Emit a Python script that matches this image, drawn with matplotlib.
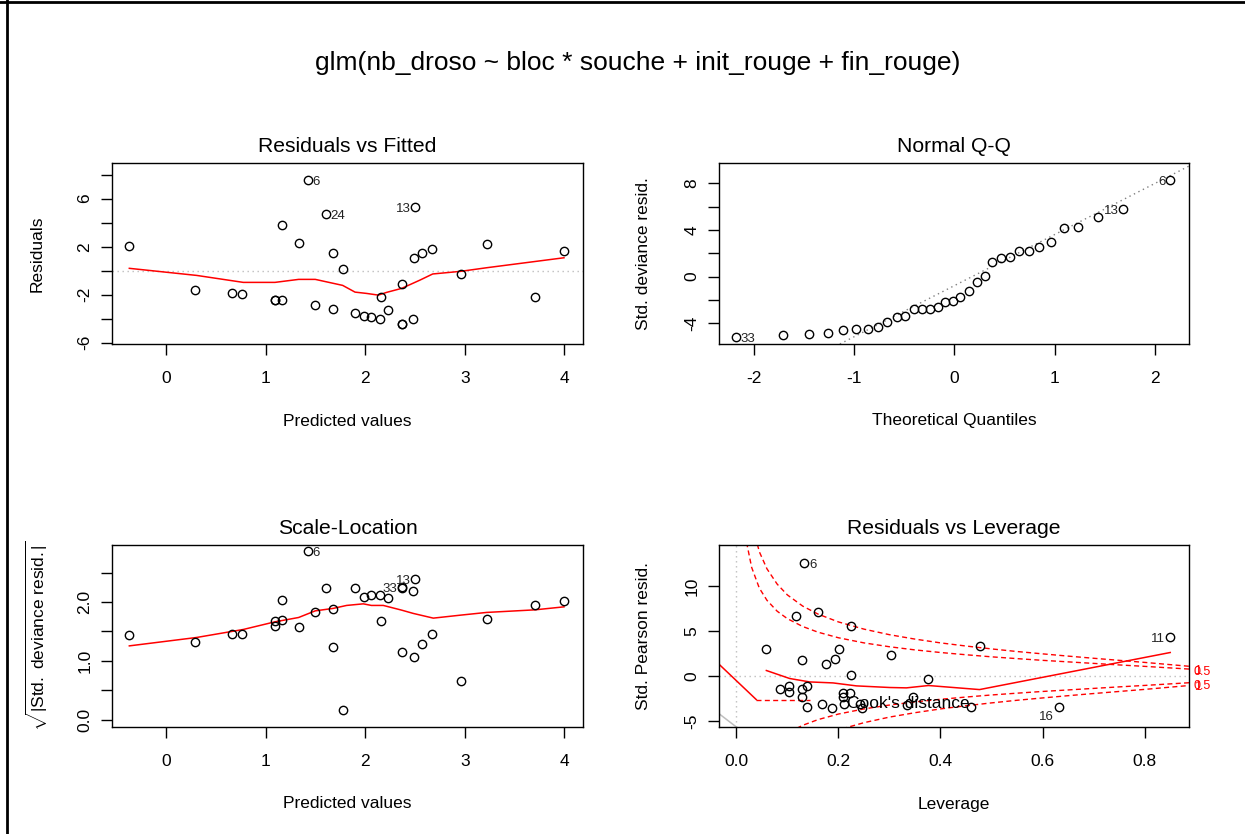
import matplotlib
matplotlib.use("Agg")
import matplotlib.pyplot as plt
from matplotlib.lines import Line2D
import matplotlib.transforms as mtransforms

plt.rcParams['font.family'] = ['Liberation Sans', 'DejaVu Sans']
plt.rcParams['mathtext.fontset'] = 'custom'
plt.rcParams['mathtext.rm'] = 'Liberation Sans'
plt.rcParams['mathtext.it'] = 'Liberation Sans:italic'
plt.rcParams['mathtext.bf'] = 'Liberation Sans:bold'

# ---------------- data ----------------
MAIN_TITLE = "glm(nb_droso ~ bloc * souche + init_rouge + fin_rouge)"

# Residuals vs Fitted / Scale-Location (same observations)
fitted = [-0.368, 0.294, 0.666, 0.763, 1.094, 1.094, 1.165, 1.165, 1.332, 1.426,
          1.496, 1.606, 1.677, 1.677, 1.774, 1.898, 1.991, 2.062, 2.145, 2.159,
          2.229, 2.366, 2.366, 2.366, 2.476, 2.487, 2.503, 2.574, 2.668, 2.959,
          3.220, 3.705, 3.996]
residuals = [2.06, -1.61, -1.86, -1.94, -2.41, -2.41, -2.41, 3.78, 2.28, 7.56,
             -2.86, 4.70, 1.50, -3.19, 0.11, -3.55, -3.77, -3.88, -4.00, -2.19,
             -3.30, -4.47, -4.47, -1.13, -4.00, 1.03, 5.28, 1.50, 1.83, -0.25,
             2.20, -2.17, 1.64]
sqrt_std_resid = [1.431, 1.317, 1.453, 1.453, 1.589, 1.675, 1.692, 2.038, 1.572, 2.862,
                  1.828, 2.231, 1.227, 1.874, 0.170, 2.231, 2.089, 2.118, 2.118, 1.669,
                  2.061, 2.259, 2.231, 1.152, 2.186, 1.061, 2.395, 1.288, 1.458, 0.664,
                  1.714, 1.952, 2.020]

# smoother (Residuals vs Fitted)
rvf_smooth_x = [-0.368, 0.308, 0.776, 1.094, 1.332, 1.499, 1.774, 1.898, 2.015, 2.132,
                2.216, 2.366, 2.550, 2.678, 2.959, 3.220, 3.996]
rvf_smooth_y = [0.20, -0.39, -0.97, -0.97, -0.72, -0.72, -1.22, -1.78, -1.89, -2.03,
                -1.80, -1.47, -0.78, -0.27, -0.05, 0.25, 1.08]

# smoother (Scale-Location)
sl_smooth_x = [-0.368, 0.308, 0.776, 1.094, 1.332, 1.499, 1.677, 1.814, 1.981, 2.062,
               2.182, 2.366, 2.483, 2.684, 2.959, 3.220, 3.705, 3.996]
sl_smooth_y = [1.254, 1.397, 1.533, 1.663, 1.737, 1.850, 1.891, 1.942, 1.969, 1.942,
               1.942, 1.862, 1.806, 1.726, 1.777, 1.823, 1.867, 1.918]

# Normal Q-Q
qq_theoretical = [-2.174, -1.706, -1.450, -1.255, -1.106, -0.982, -0.860, -0.763, -0.667,
                  -0.574, -0.488, -0.404, -0.325, -0.245, -0.162, -0.090, -0.010, 0.060,
                  0.143, 0.223, 0.303, 0.378, 0.468, 0.555, 0.648, 0.744, 0.841, 0.960,
                  1.090, 1.235, 1.428, 1.683, 2.151]
qq_sample = [-5.14, -5.02, -4.91, -4.80, -4.57, -4.45, -4.45, -4.31, -3.86, -3.48, -3.37,
             -2.80, -2.80, -2.80, -2.57, -2.20, -2.08, -1.74, -1.25, -0.43, 0.06, 1.23,
             1.60, 1.69, 2.17, 2.17, 2.52, 3.00, 4.17, 4.28, 5.12, 5.83, 8.29]
qq_line_intercept = -0.77
qq_line_slope = 4.385

# Residuals vs Leverage
leverage = [0.1333, 0.1608, 0.1176, 0.2255, 0.0588, 0.1280, 0.1765, 0.1927, 0.2012,
            0.3031, 0.4765, 0.8502, 0.2255, 0.3765, 0.0849, 0.1032, 0.1032, 0.1280,
            0.1392, 0.1280, 0.1392, 0.1686, 0.1875, 0.2084, 0.2235, 0.2084, 0.2104,
            0.2418, 0.2463, 0.3339, 0.3463, 0.4594, 0.6325]
pearson = [12.51, 7.09, 6.65, 5.57, 2.97, 1.75, 1.27, 1.89, 2.97, 2.34, 3.27, 4.34,
           0.08, -0.37, -1.45, -1.11, -1.78, -1.45, -1.11, -2.34, -3.45, -3.15, -3.56,
           -1.89, -1.89, -2.34, -3.15, -3.08, -3.56, -3.26, -2.34, -3.45, -3.45]
rvl_smooth_x = [0.0588, 0.1045, 0.1437, 0.1895, 0.2353, 0.3006, 0.3333, 0.3765, 0.4765, 0.8502]
rvl_smooth_y = [0.60, -0.29, -0.67, -0.78, -1.11, -1.29, -1.33, -1.07, -1.52, 2.60]

cook_h = [0.02, 0.03, 0.045, 0.06, 0.08, 0.10, 0.13, 0.16, 0.20, 0.25, 0.30, 0.35,
          0.40, 0.45, 0.50, 0.55, 0.60, 0.65, 0.70, 0.75, 0.80, 0.887]
cook_level_1 = [21.0, 17.05, 13.8, 11.9, 10.2, 9.0, 7.76, 6.87, 6.0, 5.2, 4.58, 4.09,
                3.67, 3.32, 3.0, 2.71, 2.45, 2.20, 1.96, 1.73, 1.5, 1.07]
cook_level_05 = [14.85, 12.06, 9.76, 8.40, 7.19, 6.36, 5.49, 4.86, 4.24, 3.67, 3.24, 2.89,
                 2.60, 2.35, 2.12, 1.92, 1.73, 1.56, 1.39, 1.22, 1.06, 0.76]
cook_labels = ["1", "0.5"]

# odd segments at the left of the leverage panel
left_red_x = [-0.034, 0.039]
left_red_y = [1.30, -2.63]
legend_dash_x = [0.039, 0.144]
legend_dash_y = [-2.63, -2.63]
left_grey_x = [-0.034, 0.0]
left_grey_y = [-4.2, -5.68]

# ---------------- figure ----------------
W, H = 1245, 834
fig = plt.figure(figsize=(W / 100, H / 100), dpi=100)
fig.patch.set_facecolor('white')


def ax_at(x0, y0, x1, y1):
    return fig.add_axes([x0 / W, 1 - y1 / H, (x1 - x0) / W, (y1 - y0) / H])


ax1 = ax_at(112, 163, 583, 344)
ax2 = ax_at(719, 163, 1189, 344)
ax3 = ax_at(112, 545, 583, 727)
ax4 = ax_at(719, 545, 1189, 727)

TICK_FS = 12.5
LAB_FS = 12.5
TITLE_FS = 15.2
ID_FS = 9.5
DOT = (0, (1, 2.6))
DASH = (0, (3.6, 2.4))
GREY = '#bebebe'


def style(ax, xlim, ylim, xt, xtl, yt, ytl):
    ax.set_xlim(*xlim)
    ax.set_ylim(*ylim)
    ax.set_xticks(xt)
    ax.set_xticklabels(xtl)
    ax.set_yticks(yt)
    ax.set_yticklabels(ytl, rotation=90, va='center')
    ax.tick_params(direction='out', length=8, width=1.0, labelsize=TICK_FS, color='black')
    ax.tick_params(axis='x', pad=11.5)
    ax.tick_params(axis='y', pad=6)
    for s in ax.spines.values():
        s.set_linewidth(1.0)
        s.set_color('black')


def labels(ax, title, xlabel, ylabel, hpx, wpx):
    ax.text(0.5, 1 + 16.5 / hpx, title, transform=ax.transAxes, ha='center', va='center',
            fontsize=TITLE_FS)
    ax.text(0.5, -77 / hpx, xlabel, transform=ax.transAxes, ha='center', va='center',
            fontsize=LAB_FS)
    ax.text(-75 / wpx, 0.5, ylabel, transform=ax.transAxes, ha='center', va='center',
            rotation=90, fontsize=LAB_FS)


def pts(ax, x, y):
    ax.plot(x, y, linestyle='none', marker='o', markersize=6, mfc='none', mec='black',
            mew=1.0, zorder=3)


def ident(ax, x, y, txt, side):
    if side == 'r':
        ax.annotate(txt, (x, y), xytext=(3.5, -1.5), textcoords='offset points',
                    ha='left', va='center', fontsize=ID_FS, color='#222222')
    else:
        ax.annotate(txt, (x, y), xytext=(-3.5, -1.5), textcoords='offset points',
                    ha='right', va='center', fontsize=ID_FS, color='#222222')


# Panel 1: Residuals vs Fitted
style(ax1, (-0.542, 4.187), (-6.1, 8.97), [0, 1, 2, 3, 4], ['0', '1', '2', '3', '4'],
      [-6, -4, -2, 0, 2, 4, 6, 8], ['-6', '', '-2', '', '2', '', '6', ''])
ax1.axhline(0, color=GREY, lw=1.0, linestyle=DOT, zorder=1)
pts(ax1, fitted, residuals)
ax1.plot(rvf_smooth_x, rvf_smooth_y, color='red', lw=1.1, zorder=2)
ident(ax1, fitted[9], residuals[9], '6', 'r')
ident(ax1, fitted[11], residuals[11], '24', 'r')
ident(ax1, fitted[26], residuals[26], '13', 'l')
labels(ax1, 'Residuals vs Fitted', 'Predicted values', 'Residuals', 181, 471)

# Panel 2: Normal Q-Q
style(ax2, (-2.344, 2.337), (-5.77, 9.74), [-2, -1, 0, 1, 2], ['-2', '-1', '0', '1', '2'],
      [-4, -2, 0, 2, 4, 6, 8], ['-4', '', '0', '', '4', '', '8'])
ax2.axline((0, qq_line_intercept), slope=qq_line_slope, color='#808080', lw=1.0,
           linestyle=DOT, zorder=1)
pts(ax2, qq_theoretical, qq_sample)
ident(ax2, qq_theoretical[0], qq_sample[0], '33', 'r')
ident(ax2, qq_theoretical[31], qq_sample[31], '13', 'l')
ident(ax2, qq_theoretical[32], qq_sample[32], '6', 'l')
labels(ax2, 'Normal Q-Q', 'Theoretical Quantiles', 'Std. deviance resid.', 181, 470)

# Panel 3: Scale-Location
style(ax3, (-0.542, 4.187), (-0.126, 2.97), [0, 1, 2, 3, 4], ['0', '1', '2', '3', '4'],
      [0, 0.5, 1, 1.5, 2, 2.5], ['0.0', '', '1.0', '', '2.0', ''])
pts(ax3, fitted, sqrt_std_resid)
ax3.plot(sl_smooth_x, sl_smooth_y, color='red', lw=1.1, zorder=2)
ident(ax3, fitted[9], sqrt_std_resid[9], '6', 'r')
ident(ax3, fitted[21], sqrt_std_resid[21], '33', 'l')
ident(ax3, fitted[26], sqrt_std_resid[26], '13', 'l')
labels(ax3, 'Scale-Location', 'Predicted values',
       r'$\sqrt{|\mathrm{Std.\ deviance\ resid.}|}$', 182, 471)

# Panel 4: Residuals vs Leverage
style(ax4, (-0.034, 0.887), (-5.68, 14.55), [0, 0.2, 0.4, 0.6, 0.8],
      ['0.0', '0.2', '0.4', '0.6', '0.8'], [-5, 0, 5, 10], ['-5', '0', '5', '10'])
ax4.axhline(0, color=GREY, lw=1.0, linestyle=DOT, zorder=1)
ax4.axvline(0, color=GREY, lw=1.0, linestyle=DOT, zorder=1)
for lvl in (cook_level_1, cook_level_05):
    ax4.plot(cook_h, lvl, color='red', lw=1.0, linestyle=DASH, zorder=2)
    ax4.plot(cook_h, [-v for v in lvl], color='red', lw=1.0, linestyle=DASH, zorder=2)
pts(ax4, leverage, pearson)
ax4.plot(rvl_smooth_x, rvl_smooth_y, color='red', lw=1.1, zorder=2)
ax4.plot(left_red_x, left_red_y, color='red', lw=1.1, zorder=2)
ax4.plot(legend_dash_x, legend_dash_y, color='red', lw=1.0, linestyle=DASH, zorder=2)
ax4.plot(left_grey_x, left_grey_y, color=GREY, lw=1.1, zorder=2)
ax4.text(0.216, -3.04, "Cook's distance", ha='left', va='center', fontsize=LAB_FS, zorder=4)
ident(ax4, leverage[0], pearson[0], '6', 'r')
ident(ax4, leverage[11], pearson[11], '11', 'l')
ax4.annotate('16', (leverage[32], pearson[32]), xytext=(-3.5, -7), textcoords='offset points',
             ha='right', va='center', fontsize=ID_FS, color='#222222')
# Cook's level labels on the right margin (overlapping in pairs as in the original)
btr = mtransforms.blended_transform_factory(ax4.transAxes, ax4.transData)
lab_y = {"1": (0.55, -1.25), "0.5": (0.45, -1.15)}
for lab in cook_labels:
    for yv in lab_y[lab]:
        ax4.text(1 + 5 / 470, yv, lab, transform=btr, ha='left',
                 va='center', fontsize=9, color='red', clip_on=False)
labels(ax4, 'Residuals vs Leverage', 'Leverage', 'Std. Pearson resid.', 182, 470)

# main title
fig.text(638 / W, 1 - 63 / H, MAIN_TITLE, ha='center', va='center', fontsize=19)

# window frame lines
fig.add_artist(Line2D([7 / W, 7 / W], [0, 1], transform=fig.transFigure, color='black', lw=2))
fig.add_artist(Line2D([0, 1], [1 - 2 / H, 1 - 2 / H], transform=fig.transFigure,
                      color='black', lw=2))

fig.savefig('out.png', dpi=100)
